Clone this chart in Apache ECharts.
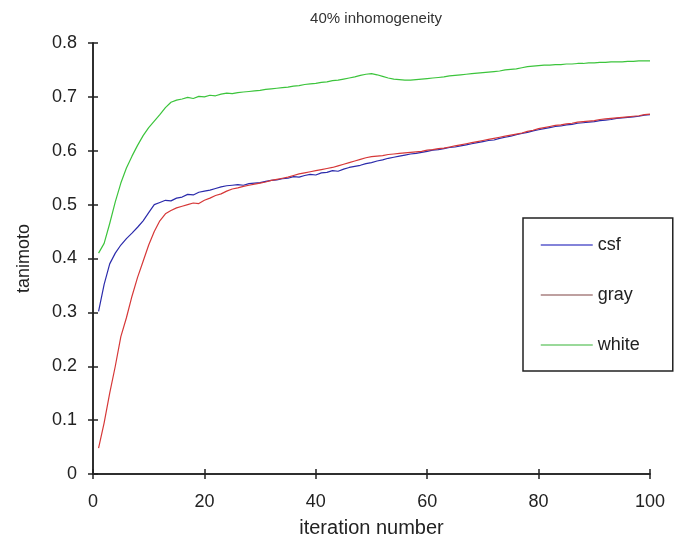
<!DOCTYPE html>
<html>
<head>
<meta charset="utf-8">
<script src="https://cdn.jsdelivr.net/npm/echarts@6/dist/echarts.min.js"></script>
<style>html,body{margin:0;padding:0;background:#fff}#c{width:684px;height:543px}</style>
</head>
<body>
<div id="c"></div>
<script>
const titleText = '40% inhomogeneity';
const xName = 'iteration number';
const yName = 'tanimoto';
const seriesNames = ['csf', 'gray', 'white'];
const xTicks = [0, 20, 40, 60, 80, 100];
const yTicks = [0, 0.1, 0.2, 0.3, 0.4, 0.5, 0.6, 0.7, 0.8];

const csf = [0.302,0.352,0.390,0.410,0.425,0.437,0.447,0.458,0.470,0.485,
0.500,0.504,0.508,0.507,0.512,0.514,0.519,0.518,0.523,0.525,
0.527,0.530,0.533,0.535,0.536,0.537,0.536,0.539,0.540,0.541,
0.543,0.545,0.546,0.548,0.549,0.552,0.551,0.554,0.556,0.555,
0.559,0.560,0.563,0.562,0.566,0.569,0.571,0.573,0.576,0.578,
0.581,0.583,0.586,0.588,0.590,0.592,0.594,0.595,0.597,0.599,
0.601,0.602,0.604,0.606,0.607,0.609,0.611,0.613,0.615,0.617,
0.619,0.620,0.623,0.625,0.627,0.630,0.632,0.634,0.637,0.639,
0.641,0.643,0.645,0.646,0.648,0.649,0.651,0.652,0.653,0.654,
0.656,0.657,0.658,0.660,0.661,0.662,0.663,0.664,0.666,0.667];

const gray = [0.048,0.095,0.150,0.200,0.255,0.290,0.330,0.365,0.395,0.425,
0.450,0.470,0.483,0.489,0.494,0.497,0.500,0.503,0.502,0.508,
0.512,0.517,0.520,0.525,0.529,0.531,0.534,0.536,0.538,0.540,
0.542,0.545,0.547,0.549,0.551,0.554,0.557,0.559,0.561,0.563,
0.565,0.567,0.569,0.572,0.575,0.578,0.581,0.584,0.587,0.589,
0.590,0.591,0.593,0.594,0.595,0.596,0.597,0.598,0.599,0.601,
0.602,0.604,0.605,0.607,0.609,0.611,0.613,0.615,0.617,0.619,
0.621,0.623,0.625,0.627,0.629,0.631,0.633,0.636,0.638,0.641,
0.643,0.645,0.647,0.648,0.650,0.651,0.653,0.654,0.655,0.656,
0.658,0.659,0.660,0.661,0.662,0.663,0.664,0.665,0.667,0.668];

const white = [0.410,0.428,0.465,0.505,0.540,0.568,0.590,0.610,0.628,0.643,
0.655,0.667,0.680,0.690,0.694,0.696,0.699,0.697,0.701,0.700,
0.703,0.702,0.705,0.707,0.706,0.708,0.709,0.710,0.711,0.712,
0.714,0.715,0.716,0.717,0.718,0.720,0.721,0.723,0.724,0.725,
0.727,0.728,0.730,0.731,0.733,0.735,0.737,0.740,0.742,0.743,
0.741,0.738,0.735,0.733,0.732,0.731,0.731,0.732,0.733,0.734,
0.735,0.736,0.737,0.739,0.740,0.741,0.742,0.743,0.744,0.745,
0.746,0.747,0.748,0.750,0.751,0.752,0.754,0.756,0.757,0.758,
0.759,0.759,0.760,0.760,0.761,0.761,0.762,0.762,0.763,0.763,
0.764,0.764,0.765,0.765,0.765,0.766,0.766,0.767,0.767,0.767];

const iterations = csf.map((_, i) => i + 1);
const seriesValues = [csf, gray, white];
const lineColors = ['#2b2bab', '#d63838', '#3cc43c'];
const legendColors = ['#5a5acc', '#a88080', '#78cc78'];

const FONT = 'Liberation Sans, Arial, sans-serif';
const axisLine = { show: true, lineStyle: { color: '#222', width: 1.5 } };
const tick = { show: true, inside: true, length: 5, lineStyle: { color: '#222', width: 1.5 } };

const chart = echarts.init(document.getElementById('c'), null, { renderer: 'canvas' });
chart.setOption({
  animation: false,
  backgroundColor: '#fff',
  title: {
    text: titleText,
    left: 371, top: 6, textAlign: 'center',
    textStyle: { fontFamily: FONT, fontSize: 15, fontWeight: 'normal', color: '#333' }
  },
  grid: { left: 93, right: 34, top: 43, bottom: 69 },
  legend: {
    orient: 'vertical',
    left: 523, top: 218,
    padding: [18, 33, 17, 17],
    itemWidth: 52, itemHeight: 14, itemGap: 32,
    borderColor: '#222', borderWidth: 1.5,
    backgroundColor: '#fff',
    textStyle: { fontFamily: FONT, fontSize: 18, color: '#222' },
    data: seriesNames.map((n, i) => ({
      name: n,
      itemStyle: { color: 'rgba(0,0,0,0)', borderWidth: 0, opacity: 0 },
      lineStyle: { color: legendColors[i], width: 1.5 }
    }))
  },
  xAxis: [
    {
      type: 'value', min: xTicks[0], max: xTicks[xTicks.length - 1], interval: xTicks[1] - xTicks[0],
      position: 'bottom',
      name: xName, nameLocation: 'middle', nameGap: 44,
      nameTextStyle: { fontFamily: FONT, fontSize: 20, color: '#222' },
      axisLine, axisTick: tick,
      axisLabel: { fontFamily: FONT, fontSize: 18, color: '#222', margin: 19 },
      splitLine: { show: false }
    },
    {
      type: 'value', min: xTicks[0], max: xTicks[xTicks.length - 1], interval: xTicks[1] - xTicks[0],
      position: 'top', axisLine, axisTick: tick, axisLabel: { show: false }, splitLine: { show: false }
    }
  ],
  yAxis: [
    {
      type: 'value', min: yTicks[0], max: yTicks[yTicks.length - 1], interval: 0.1,
      position: 'left',
      name: yName, nameLocation: 'middle', nameGap: 60, nameRotate: 90,
      nameTextStyle: { fontFamily: FONT, fontSize: 18, color: '#222' },
      axisLine, axisTick: tick,
      axisLabel: { fontFamily: FONT, fontSize: 18, color: '#222', margin: 16 },
      splitLine: { show: false }
    },
    {
      type: 'value', min: yTicks[0], max: yTicks[yTicks.length - 1], interval: 0.1,
      position: 'right', axisLine, axisTick: tick, axisLabel: { show: false }, splitLine: { show: false }
    }
  ],
  series: seriesNames.map((n, i) => ({
    name: n, type: 'line', xAxisIndex: 0, yAxisIndex: 0,
    symbol: 'none', smooth: false,
    lineStyle: { color: lineColors[i], width: 1.2 },
    itemStyle: { color: lineColors[i] },
    data: iterations.map((x, k) => [x, seriesValues[i][k]])
  }))
});
</script>
</body>
</html>
